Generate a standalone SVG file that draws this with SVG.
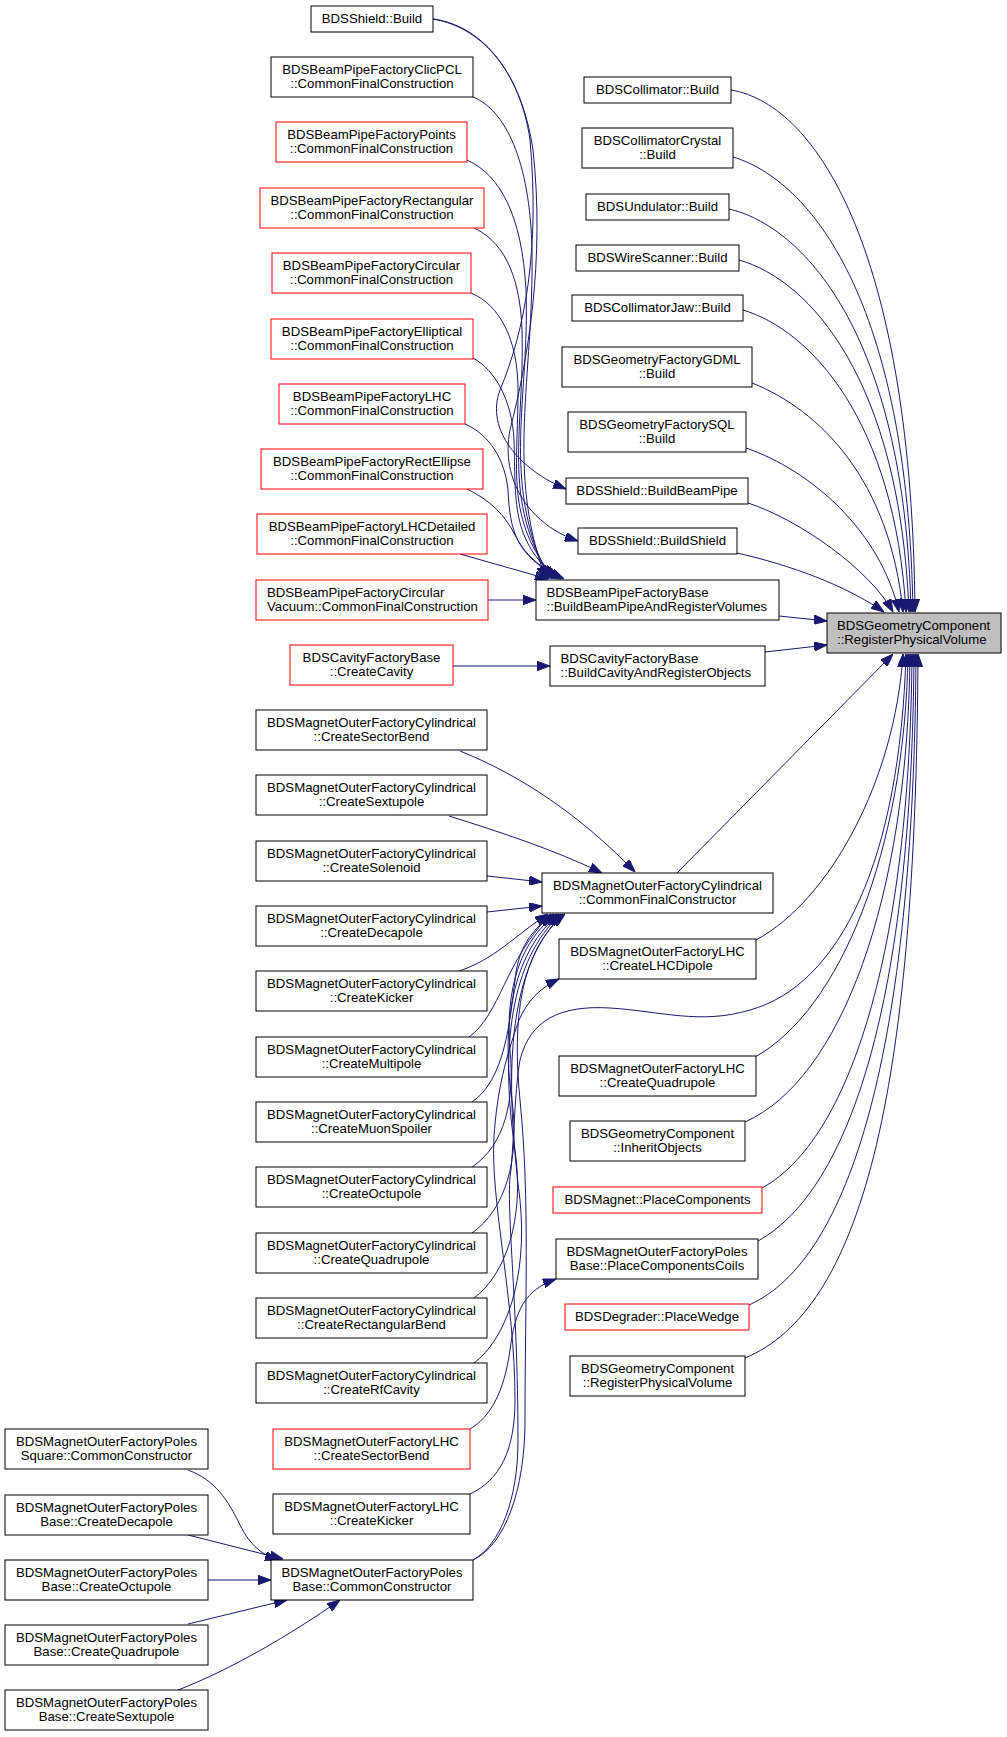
<svg xmlns="http://www.w3.org/2000/svg" width="1007" height="1737" viewBox="0 0 1007 1737">
<style>
text{font-family:"Liberation Sans",Arial,Helvetica,sans-serif;font-size:13.2px;fill:#000}
.c{text-anchor:middle}
.l{text-anchor:start}
.n rect{fill:#fff;stroke:#000;stroke-width:1}
.r rect{fill:#fff;stroke:#f00;stroke-width:1}
.t rect{fill:#bfbfbf;stroke:#000;stroke-width:1}
.e path{fill:none;stroke:#191970;stroke-width:1;marker-end:url(#ah)}
</style>
<defs>
<marker id="ah" viewBox="0 0 13 9.4" refX="13" refY="4.7" markerUnits="userSpaceOnUse" markerWidth="13" markerHeight="9.4" orient="auto" preserveAspectRatio="none">
<path d="M0,0 L13,4.7 L0,9.4 z" fill="#191970" stroke="#191970" stroke-width="1"/>
</marker>
</defs>
<rect width="1007" height="1737" fill="#fff"/>

<g id="edges" class="e">
<!-- to target from upper right column -->
<path d="M731,90 C820,105 912,260 915,612"/>
<path d="M733,157 C810,180 908,300 913,612"/>
<path d="M729,209 C800,225 905,330 911,612"/>
<path d="M739,260 C810,280 900,380 909,612"/>
<path d="M743,310 C810,330 895,420 906,612"/>
<path d="M752,383 C820,410 890,480 903,612"/>
<path d="M746,448 C810,470 880,530 899,612"/>
<path d="M748,503 C800,520 870,570 893,612"/>
<path d="M737,553 C790,565 845,585 884,612"/>
<path d="M779,616 L827,621"/>
<path d="M765,652 L827,645"/>
<!-- to target from below -->
<path d="M677,873 L893,654"/>
<path d="M756,940 C830,900 895,780 903,654"/>
<path d="M755,1057 C840,1010 905,850 908,654"/>
<path d="M745,1122 C840,1080 908,900 910,654"/>
<path d="M762,1188 C850,1140 910,950 912,654"/>
<path d="M758,1241 C850,1190 912,1000 914,654"/>
<path d="M749,1305 C850,1260 914,1050 916,654"/>
<path d="M745,1358 C860,1310 916,1100 918,654"/>
<path d="M473,1560 C500,1545 518,1500 518,1440 C518,1300 505,1200 511,1170 C515,1120 515,1090 520,1060 C530,1020 560,1005 610,1008 C660,1011 700,1025 750,1010 C840,985 900,860 906,654"/>
<!-- into BDSBeamPipeFactoryBase -->
<path d="M473,97 C505,110 530,160 532,250 C534,380 505,470 546,579"/>
<path d="M467,160 C500,175 522,215 526,290 C530,400 500,480 549,579"/>
<path d="M474,228 C500,240 520,270 522,330 C525,430 500,500 552,579"/>
<path d="M471,293 C500,305 518,340 518,390 C518,470 505,520 555,579"/>
<path d="M473,358 C495,370 512,400 514,440 C516,500 510,540 558,579"/>
<path d="M465,424 C490,435 505,460 508,490 C510,530 515,555 561,579"/>
<path d="M467,489 C490,500 505,515 515,535 C525,555 540,568 564,579"/>
<path d="M460,554 L548,579"/>
<path d="M488,600 L536,600"/>
<!-- BDSShield::Build -->
<path d="M433,19 C480,25 520,70 530,140 C540,250 525,330 500,390 C485,430 520,470 566,489"/>
<path d="M433,19 C485,28 522,75 533,150 C545,260 528,360 510,430 C500,480 530,525 578,541"/>
<!-- cavity -->
<path d="M453,666 L550,666"/>
<!-- into CommonFinalConstructor -->
<path d="M460,751 C520,775 580,815 635,872"/>
<path d="M449,816 C500,832 555,850 602,873"/>
<path d="M487,876 L542,882"/>
<path d="M487,912 L542,906"/>
<path d="M456,972 C495,960 515,935 548,914"/>
<path d="M469,1037 C500,1015 505,960 551,914"/>
<path d="M472,1102 C505,1080 510,1020 515,980 C518,950 530,930 554,914"/>
<path d="M472,1167 C505,1145 515,1100 510,1050 C505,990 520,940 557,914"/>
<path d="M472,1233 C505,1210 520,1160 512,1100 C500,1020 515,950 559,914"/>
<path d="M474,1298 C505,1275 525,1220 515,1150 C500,1050 510,960 561,914"/>
<path d="M474,1363 C505,1340 528,1280 520,1200 C505,1080 505,970 563,914"/>
<path d="M473,1560 C505,1545 525,1490 525,1420 C525,1300 530,1200 520,1100 C512,1020 520,950 565,914"/>
<!-- LHC -->
<path d="M470,1429 C490,1417 504,1393 510,1350 C515,1310 525,1290 556,1279"/>
<path d="M470,1494 C500,1480 515,1450 515,1400 C515,1300 490,1200 494,1137 C497,1090 506,1057 519,1020 C528,1000 540,988 559,979"/>
<!-- into Poles CommonConstructor -->
<path d="M188,1470 C215,1480 228,1500 240,1525 C250,1545 262,1555 278,1560"/>
<path d="M188,1535 L283,1559"/>
<path d="M208,1580 L271,1580"/>
<path d="M188,1624 L287,1600"/>
<path d="M178,1690 C230,1670 290,1635 340,1600"/>
</g>

<!-- target -->
<g id="node-target" class="t"><rect x="827" y="613" width="174" height="40"/><text class="l" x="837" y="629.7">BDSGeometryComponent</text><text class="l" x="837" y="643.7">::RegisterPhysicalVolume</text></g>

<!-- right column -->
<g id="node-r1" class="n"><rect x="584" y="77" width="147" height="26"/><text class="c" x="657.5" y="94.3">BDSCollimator::Build</text></g>
<g id="node-r2" class="n"><rect x="582" y="128" width="151" height="40"/><text class="c" x="657.5" y="144.7">BDSCollimatorCrystal</text><text class="c" x="657.5" y="158.7">::Build</text></g>
<g id="node-r3" class="n"><rect x="586" y="194" width="143" height="26"/><text class="c" x="657.5" y="211.3">BDSUndulator::Build</text></g>
<g id="node-r4" class="n"><rect x="576" y="245" width="163" height="26"/><text class="c" x="657.5" y="262.3">BDSWireScanner::Build</text></g>
<g id="node-r5" class="n"><rect x="572" y="295" width="171" height="26"/><text class="c" x="657.5" y="312.3">BDSCollimatorJaw::Build</text></g>
<g id="node-r6" class="n"><rect x="562" y="347" width="190" height="40"/><text class="c" x="657" y="363.7">BDSGeometryFactoryGDML</text><text class="c" x="657" y="377.7">::Build</text></g>
<g id="node-r7" class="n"><rect x="568" y="412" width="178" height="40"/><text class="c" x="657" y="428.7">BDSGeometryFactorySQL</text><text class="c" x="657" y="442.7">::Build</text></g>
<g id="node-r8" class="n"><rect x="566" y="478" width="182" height="26"/><text class="c" x="657" y="495.3">BDSShield::BuildBeamPipe</text></g>
<g id="node-r9" class="n"><rect x="578" y="528" width="159" height="26"/><text class="c" x="657.5" y="545.3">BDSShield::BuildShield</text></g>
<g id="node-r10" class="n"><rect x="536" y="580" width="243" height="40"/><text class="l" x="546.5" y="596.7">BDSBeamPipeFactoryBase</text><text class="l" x="546.5" y="610.7">::BuildBeamPipeAndRegisterVolumes</text></g>
<g id="node-r11" class="n"><rect x="550" y="646" width="215" height="40"/><text class="l" x="560.5" y="662.7">BDSCavityFactoryBase</text><text class="l" x="560.5" y="676.7">::BuildCavityAndRegisterObjects</text></g>
<g id="node-r12" class="n"><rect x="542" y="873" width="231" height="40"/><text class="c" x="657.5" y="889.7">BDSMagnetOuterFactoryCylindrical</text><text class="c" x="657.5" y="903.7">::CommonFinalConstructor</text></g>
<g id="node-r13" class="n"><rect x="559" y="939" width="197" height="40"/><text class="c" x="657.5" y="955.7">BDSMagnetOuterFactoryLHC</text><text class="c" x="657.5" y="969.7">::CreateLHCDipole</text></g>
<g id="node-r14" class="n"><rect x="559" y="1056" width="197" height="40"/><text class="c" x="657.5" y="1072.7">BDSMagnetOuterFactoryLHC</text><text class="c" x="657.5" y="1086.7">::CreateQuadrupole</text></g>
<g id="node-r15" class="n"><rect x="570" y="1121" width="175" height="40"/><text class="c" x="657.5" y="1137.7">BDSGeometryComponent</text><text class="c" x="657.5" y="1151.7">::InheritObjects</text></g>
<g id="node-r16" class="r"><rect x="553" y="1187" width="209" height="26"/><text class="c" x="657.5" y="1204.3">BDSMagnet::PlaceComponents</text></g>
<g id="node-r17" class="n"><rect x="556" y="1239" width="202" height="40"/><text class="c" x="657" y="1255.7">BDSMagnetOuterFactoryPoles</text><text class="c" x="657" y="1269.7">Base::PlaceComponentsCoils</text></g>
<g id="node-r18" class="r"><rect x="565" y="1304" width="184" height="26"/><text class="c" x="657" y="1321.3">BDSDegrader::PlaceWedge</text></g>
<g id="node-r19" class="n"><rect x="570" y="1356" width="175" height="40"/><text class="c" x="657.5" y="1372.7">BDSGeometryComponent</text><text class="c" x="657.5" y="1386.7">::RegisterPhysicalVolume</text></g>

<!-- middle column -->
<g id="node-a1" class="n"><rect x="311" y="6" width="122" height="26"/><text class="c" x="372" y="23.3">BDSShield::Build</text></g>
<g id="node-a2" class="n"><rect x="271" y="57" width="202" height="40"/><text class="c" x="372" y="73.7">BDSBeamPipeFactoryClicPCL</text><text class="c" x="372" y="87.7">::CommonFinalConstruction</text></g>
<g id="node-a3" class="r"><rect x="276" y="122" width="191" height="40"/><text class="c" x="371.5" y="138.7">BDSBeamPipeFactoryPoints</text><text class="c" x="371.5" y="152.7">::CommonFinalConstruction</text></g>
<g id="node-a4" class="r"><rect x="260" y="188" width="224" height="40"/><text class="c" x="372" y="204.7">BDSBeamPipeFactoryRectangular</text><text class="c" x="372" y="218.7">::CommonFinalConstruction</text></g>
<g id="node-a5" class="r"><rect x="272" y="253" width="199" height="40"/><text class="c" x="371.5" y="269.7">BDSBeamPipeFactoryCircular</text><text class="c" x="371.5" y="283.7">::CommonFinalConstruction</text></g>
<g id="node-a6" class="r"><rect x="271" y="319" width="202" height="40"/><text class="c" x="372" y="335.7">BDSBeamPipeFactoryElliptical</text><text class="c" x="372" y="349.7">::CommonFinalConstruction</text></g>
<g id="node-a7" class="r"><rect x="279" y="384" width="186" height="40"/><text class="c" x="372" y="400.7">BDSBeamPipeFactoryLHC</text><text class="c" x="372" y="414.7">::CommonFinalConstruction</text></g>
<g id="node-a8" class="r"><rect x="261" y="449" width="222" height="40"/><text class="c" x="372" y="465.7">BDSBeamPipeFactoryRectEllipse</text><text class="c" x="372" y="479.7">::CommonFinalConstruction</text></g>
<g id="node-a9" class="r"><rect x="257" y="514" width="230" height="40"/><text class="c" x="372" y="530.7">BDSBeamPipeFactoryLHCDetailed</text><text class="c" x="372" y="544.7">::CommonFinalConstruction</text></g>
<g id="node-a10" class="r"><rect x="256" y="580" width="232" height="40"/><text class="l" x="267" y="596.7">BDSBeamPipeFactoryCircular</text><text class="l" x="267" y="610.7">Vacuum::CommonFinalConstruction</text></g>
<g id="node-a11" class="r"><rect x="290" y="645" width="163" height="40"/><text class="c" x="371.5" y="661.7">BDSCavityFactoryBase</text><text class="c" x="371.5" y="675.7">::CreateCavity</text></g>
<g id="node-c1" class="n"><rect x="256" y="710" width="231" height="40"/><text class="c" x="371.5" y="726.7">BDSMagnetOuterFactoryCylindrical</text><text class="c" x="371.5" y="740.7">::CreateSectorBend</text></g>
<g id="node-c2" class="n"><rect x="256" y="775" width="231" height="40"/><text class="c" x="371.5" y="791.7">BDSMagnetOuterFactoryCylindrical</text><text class="c" x="371.5" y="805.7">::CreateSextupole</text></g>
<g id="node-c3" class="n"><rect x="256" y="841" width="231" height="40"/><text class="c" x="371.5" y="857.7">BDSMagnetOuterFactoryCylindrical</text><text class="c" x="371.5" y="871.7">::CreateSolenoid</text></g>
<g id="node-c4" class="n"><rect x="256" y="906" width="231" height="40"/><text class="c" x="371.5" y="922.7">BDSMagnetOuterFactoryCylindrical</text><text class="c" x="371.5" y="936.7">::CreateDecapole</text></g>
<g id="node-c5" class="n"><rect x="256" y="971" width="231" height="40"/><text class="c" x="371.5" y="987.7">BDSMagnetOuterFactoryCylindrical</text><text class="c" x="371.5" y="1001.7">::CreateKicker</text></g>
<g id="node-c6" class="n"><rect x="256" y="1037" width="231" height="40"/><text class="c" x="371.5" y="1053.7">BDSMagnetOuterFactoryCylindrical</text><text class="c" x="371.5" y="1067.7">::CreateMultipole</text></g>
<g id="node-c7" class="n"><rect x="256" y="1102" width="231" height="40"/><text class="c" x="371.5" y="1118.7">BDSMagnetOuterFactoryCylindrical</text><text class="c" x="371.5" y="1132.7">::CreateMuonSpoiler</text></g>
<g id="node-c8" class="n"><rect x="256" y="1167" width="231" height="40"/><text class="c" x="371.5" y="1183.7">BDSMagnetOuterFactoryCylindrical</text><text class="c" x="371.5" y="1197.7">::CreateOctupole</text></g>
<g id="node-c9" class="n"><rect x="256" y="1233" width="231" height="40"/><text class="c" x="371.5" y="1249.7">BDSMagnetOuterFactoryCylindrical</text><text class="c" x="371.5" y="1263.7">::CreateQuadrupole</text></g>
<g id="node-c10" class="n"><rect x="256" y="1298" width="231" height="40"/><text class="c" x="371.5" y="1314.7">BDSMagnetOuterFactoryCylindrical</text><text class="c" x="371.5" y="1328.7">::CreateRectangularBend</text></g>
<g id="node-c11" class="n"><rect x="256" y="1363" width="231" height="40"/><text class="c" x="371.5" y="1379.7">BDSMagnetOuterFactoryCylindrical</text><text class="c" x="371.5" y="1393.7">::CreateRfCavity</text></g>
<g id="node-l1" class="r"><rect x="273" y="1429" width="197" height="40"/><text class="c" x="371.5" y="1445.7">BDSMagnetOuterFactoryLHC</text><text class="c" x="371.5" y="1459.7">::CreateSectorBend</text></g>
<g id="node-l2" class="n"><rect x="273" y="1494" width="197" height="40"/><text class="c" x="371.5" y="1510.7">BDSMagnetOuterFactoryLHC</text><text class="c" x="371.5" y="1524.7">::CreateKicker</text></g>
<g id="node-pcc" class="n"><rect x="271" y="1560" width="202" height="40"/><text class="c" x="372" y="1576.7">BDSMagnetOuterFactoryPoles</text><text class="c" x="372" y="1590.7">Base::CommonConstructor</text></g>

<!-- far left column -->
<g id="node-p1" class="n"><rect x="5" y="1429" width="203" height="40"/><text class="c" x="106.5" y="1445.7">BDSMagnetOuterFactoryPoles</text><text class="c" x="106.5" y="1459.7">Square::CommonConstructor</text></g>
<g id="node-p2" class="n"><rect x="5" y="1495" width="203" height="40"/><text class="c" x="106.5" y="1511.7">BDSMagnetOuterFactoryPoles</text><text class="c" x="106.5" y="1525.7">Base::CreateDecapole</text></g>
<g id="node-p3" class="n"><rect x="5" y="1560" width="203" height="40"/><text class="c" x="106.5" y="1576.7">BDSMagnetOuterFactoryPoles</text><text class="c" x="106.5" y="1590.7">Base::CreateOctupole</text></g>
<g id="node-p4" class="n"><rect x="5" y="1625" width="203" height="40"/><text class="c" x="106.5" y="1641.7">BDSMagnetOuterFactoryPoles</text><text class="c" x="106.5" y="1655.7">Base::CreateQuadrupole</text></g>
<g id="node-p5" class="n"><rect x="5" y="1690" width="203" height="40"/><text class="c" x="106.5" y="1706.7">BDSMagnetOuterFactoryPoles</text><text class="c" x="106.5" y="1720.7">Base::CreateSextupole</text></g>
</svg>
